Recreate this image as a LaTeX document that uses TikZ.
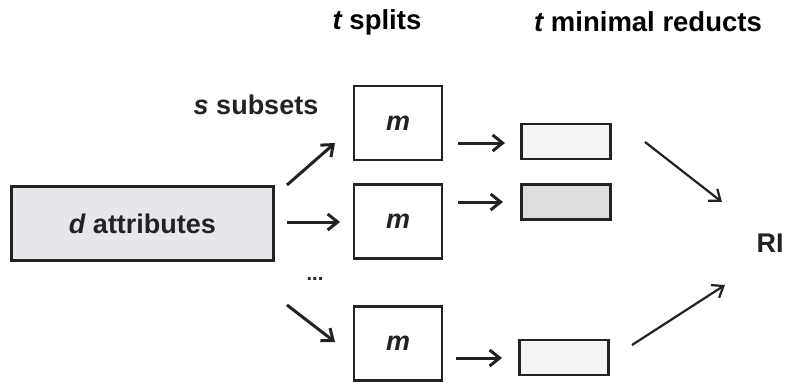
\documentclass[tikz,border=0pt]{standalone}
\usepackage{fontspec}
\setmainfont{Liberation Sans}
\usetikzlibrary{arrows.meta,positioning,calc}
\definecolor{attrfill}{RGB}{230,230,235}
\definecolor{darkfill}{RGB}{222,222,225}
\definecolor{palefill}{RGB}{244,244,246}
\definecolor{ink}{RGB}{34,34,34}
\tikzset{
  attrbox/.style={rectangle,draw=ink,fill=attrfill,line width=3pt,minimum width=262pt,minimum height=74pt,inner sep=0pt},
  splitbox/.style={rectangle,draw=ink,fill=white,line width=2.8pt,minimum width=88pt,minimum height=74pt,inner sep=0pt},
  reductbox/.style={rectangle,draw=ink,line width=2.8pt,minimum width=89pt,minimum height=35pt,inner sep=0pt},
  arr/.style={-{Straight Barb[length=10pt,width=16pt,line width=3pt]},line width=3pt,draw=ink},
  longarr/.style={-{Straight Barb[length=10pt,width=15pt,line width=2.2pt]},line width=2.2pt,draw=ink},
  lbl/.style={font=\fontsize{27}{30}\selectfont\bfseries,text=ink,inner sep=0pt},
  title/.style={font=\fontsize{27.5}{30}\selectfont\bfseries,text=black,inner sep=0pt}
}
\begin{document}
\begin{tikzpicture}[x=1pt,y=-1pt]
  \useasboundingbox[fill=white] (0,0) rectangle (791,385);
  % headings
  \node[title] (hsplit) at (377,22) {\itshape t\upshape{} splits};
  \node[title] (hred) at (648,22) {\itshape t\upshape{} minimal reducts};
  \node[lbl] (subsets) at (256,105) {\itshape s\upshape{} subsets};
  % data and splits
  \node[attrbox,lbl] (attr) at (142.5,223.5) {\itshape d\upshape{} attributes};
  \node[splitbox,lbl] (split1) at (398,123) {\itshape m};
  \node[splitbox,lbl] (split2) at (398,221.5) {\itshape m};
  \node[splitbox,lbl] (split3) at (398,343.5) {\itshape m};
  \node[font=\fontsize{20}{20}\selectfont\bfseries,text=ink,inner sep=0pt] (dots) at (315,279) {...};
  % reducts
  \node[reductbox,fill=palefill] (red1) at (566,141.5) {};
  \node[reductbox,fill=darkfill] (red2) at (566,202) {};
  \node[reductbox,fill=palefill] (red3) at (564,357.5) {};
  \node[lbl] (ri) at (770,243) {RI};
  % arrow ends
  \coordinate (a1) at (287,185); \coordinate (b1) at (335,143);
  \coordinate (a2) at (287,222); \coordinate (b2) at (340,222);
  \coordinate (a3) at (287,305); \coordinate (b3) at (335,342);
  \coordinate (c1) at (458,143); \coordinate (d1) at (505,143);
  \coordinate (c2) at (458,202); \coordinate (d2) at (503,202);
  \coordinate (c3) at (456,358); \coordinate (d3) at (502,358);
  \coordinate (e1) at (645,142); \coordinate (f1) at (722,202);
  \coordinate (e2) at (632,345); \coordinate (f2) at (725,285);
  \foreach \i in {1,2,3}{
    \draw[arr] (a\i) -- (b\i);
    \draw[arr] (c\i) -- (d\i);
  }
  \foreach \i in {1,2}
    \draw[longarr] (e\i) -- (f\i);
\end{tikzpicture}
\end{document}
